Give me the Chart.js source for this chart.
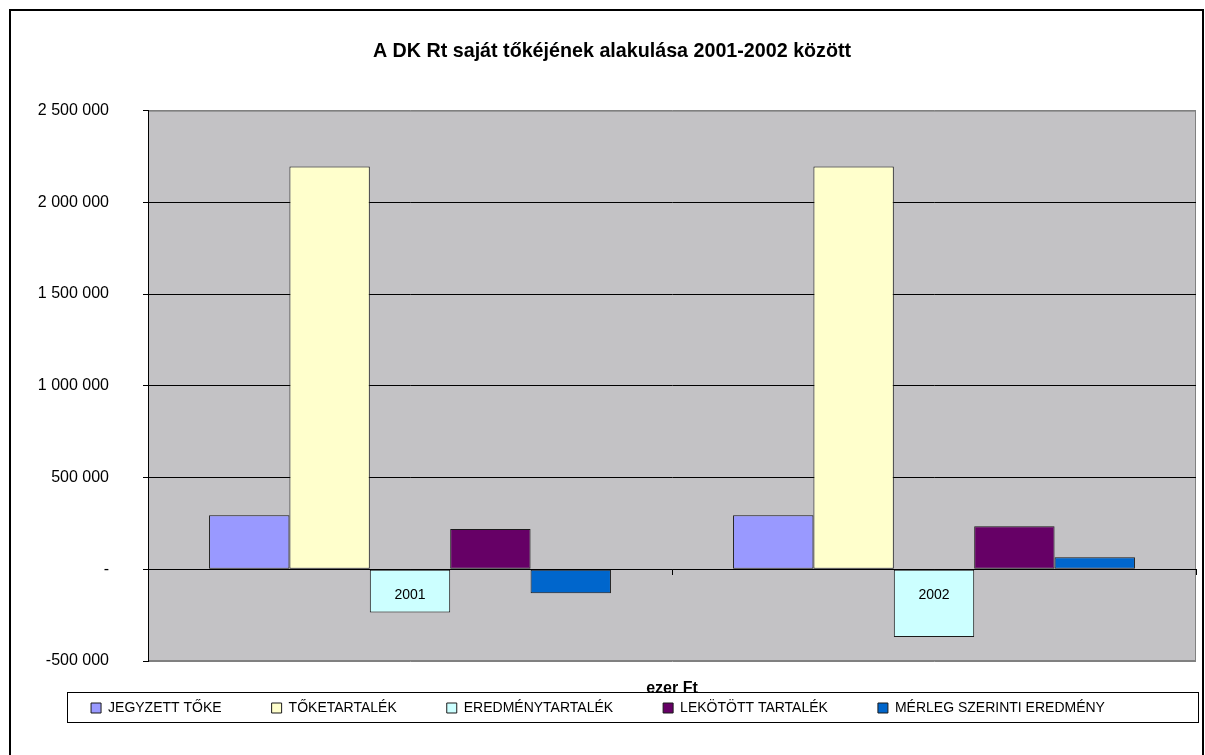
<!DOCTYPE html>
<html>
<head>
<meta charset="utf-8">
<script src="https://cdn.jsdelivr.net/npm/chart.js@4/dist/chart.umd.min.js"></script>
<style>
html, body { margin: 0; padding: 0; background: #fff; }
#wrap { position: relative; width: 1205px; height: 755px; }
</style>
</head>
<body>
<div id="wrap"><canvas id="c" width="1205" height="755"></canvas></div>
<script>
// ---- data ----
const categories = ['2001', '2002'];
const seriesNames = ['JEGYZETT TŐKE', 'TŐKETARTALÉK', 'EREDMÉNYTARTALÉK', 'LEKÖTÖTT TARTALÉK', 'MÉRLEG SZERINTI EREDMÉNY'];
const jegyzettToke = [295000, 295000];
const toketartalek = [2195000, 2195000];
const eredmenytartalek = [-235000, -369000];
const lekotottTartalek = [219000, 234000];
const merlegEredmeny = [-131000, 65000];
const yMin = -500000;
const yMax = 2500000;
const yStep = 500000;
const chartTitle = 'A DK Rt saját tőkéjének alakulása 2001-2002 között';
const axisTitle = 'ezer Ft';

// ---- style ----
const FONT = "'Liberation Sans', Arial, Helvetica, sans-serif";
const colors = ['#9999FF', '#FFFFCC', '#CCFFFF', '#660066', '#0066CC'];
const LEG_PAD = 50;
const LEG_FONT = 14;
const LEG_SHIFT_Y = -10;
const LEG_SHIFT_X = -14;
const PAD_LEFT = 28;

function fmt(v) {
  if (v === 0) return '-';
  const s = Math.abs(v).toString().replace(/\B(?=(\d{3})+(?!\d))/g, ' ');
  return (v < 0 ? '-' : '') + s;
}

const seriesValues = [jegyzettToke, toketartalek, eredmenytartalek, lekotottTartalek, merlegEredmeny];
const datasets = seriesNames.map((name, i) => ({
  label: name,
  data: seriesValues[i],
  backgroundColor: colors[i],
  borderColor: '#1a1a1a',
  borderWidth: 1,
  borderSkipped: false,
  categoryPercentage: 0.767,
  barPercentage: 1.0,
  xAxisID: 'x',
  yAxisID: 'y'
}));

const framePlugin = {
  id: 'frame',
  beforeLayout(chart) {
    const lg = chart.legend;
    if (lg && !lg._patched) {
      lg._patched = true;
      const fit0 = lg.fit.bind(lg);
      lg.fit = function () { fit0(); this.height = 94; };
      const draw0 = lg.draw.bind(lg);
      lg.draw = function () {
        const t = this.top, b = this.bottom, l = this.left, r = this.right;
        this.top = t + LEG_SHIFT_Y;
        this.bottom = b + LEG_SHIFT_Y;
        this.left = l + LEG_SHIFT_X;
        this.right = r + LEG_SHIFT_X;
        const ctx = this.ctx;
        const cy = this.top + LEG_PAD + LEG_FONT / 2;
        ctx.save();
        ctx.fillStyle = '#fff';
        ctx.fillRect(67, Math.round(cy - 16), 1132, 30);
        ctx.strokeStyle = '#000';
        ctx.lineWidth = 1;
        ctx.strokeRect(67.5, Math.round(cy - 16) + 0.5, 1131, 30);
        ctx.restore();
        draw0();
        this.top = t; this.bottom = b; this.left = l; this.right = r;
      };
    }
  },
  beforeDraw(chart) {
    const { ctx, chartArea: a } = chart;
    ctx.save();
    ctx.fillStyle = '#fff';
    ctx.fillRect(0, 0, chart.width, chart.height);
    ctx.fillStyle = 'rgb(195,194,197)';
    ctx.fillRect(a.left, a.top, a.right - a.left, a.bottom - a.top);
    ctx.strokeStyle = '#808080';
    ctx.lineWidth = 1;
    ctx.strokeRect(a.left + 0.5, a.top + 0.5, a.right - a.left - 1, a.bottom - a.top - 1);
    ctx.strokeStyle = '#000';
    ctx.lineWidth = 2;
    ctx.strokeRect(10, 10, chart.width - 12, chart.height + 20);
    ctx.restore();
  }
};

new Chart(document.getElementById('c'), {
  type: 'bar',
  data: { labels: categories, datasets },
  plugins: [framePlugin],
  options: {
    responsive: false,
    animation: false,
    devicePixelRatio: 1,
    layout: { padding: { left: PAD_LEFT, right: 9, top: 0, bottom: 0 } },
    plugins: {
      title: {
        display: true,
        text: chartTitle,
        color: '#000',
        font: { family: FONT, size: 19.7, weight: 'bold' },
        padding: { top: 40, bottom: 47 }
      },
      legend: {
        display: true,
        position: 'bottom',
        align: 'center',
        labels: {
          color: '#000',
          font: { family: FONT, size: LEG_FONT },
          boxWidth: 10,
          boxHeight: 10,
          padding: LEG_PAD
        }
      },
      tooltip: { enabled: false }
    },
    scales: {
      x: {
        type: 'category',
        position: { y: 0 },
        offset: true,
        grid: { display: true, drawOnChartArea: false, offset: true, drawTicks: true, tickLength: 5, tickColor: '#000', color: '#000' },
        border: { display: true, color: '#000', width: 1 },
        ticks: { color: '#000', font: { family: FONT, size: 14 }, padding: 12, z: 1, maxRotation: 0 }
      },
      x2: {
        type: 'category',
        position: { y: yMin },
        grid: { display: false, drawTicks: false },
        border: { display: false },
        ticks: { display: false },
        title: {
          display: true,
          text: axisTitle,
          color: '#000',
          font: { family: FONT, size: 16, weight: 'bold' },
          padding: { top: 18, bottom: 0 }
        }
      },
      y: {
        type: 'linear',
        min: yMin,
        max: yMax,
        ticks: {
          stepSize: yStep,
          color: '#000',
          font: { family: FONT, size: 16 },
          padding: 34,
          callback: (v) => fmt(v)
        },
        grid: {
          color: (c) => (c.tick && (c.tick.value === yMax || c.tick.value === yMin)) ? '#808080' : '#000',
          tickColor: '#000',
          tickLength: 5,
          lineWidth: 1
        },
        border: { color: '#000', width: 1 },
        afterFit(s) { s.width = 148 - PAD_LEFT; }
      }
    }
  }
});
</script>
</body>
</html>
